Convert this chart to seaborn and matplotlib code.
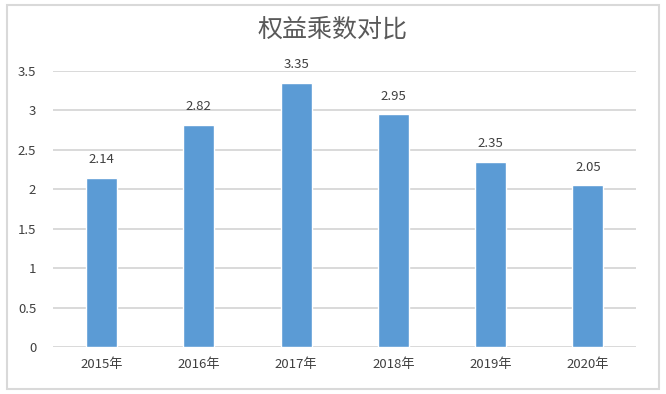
import matplotlib
matplotlib.use("Agg")
import matplotlib.pyplot as plt
import seaborn as sns
import pandas as pd
from matplotlib.patches import Rectangle

# Chart data
years = ["2015年", "2016年", "2017年", "2018年", "2019年", "2020年"]
values = [2.14, 2.82, 3.35, 2.95, 2.35, 2.05]
y_ticks = [0, 0.5, 1, 1.5, 2, 2.5, 3, 3.5]
y_tick_labels = ["0", "0.5", "1", "1.5", "2", "2.5", "3", "3.5"]

sns.set_style("white")
plt.rcParams['font.family'] = ['Noto Sans CJK SC', 'DejaVu Sans']

df = pd.DataFrame({"year": years, "value": values})

fig = plt.figure(figsize=(6.66, 3.94), dpi=100)
ax = fig.add_axes([0.0796, 0.1193, 0.876, 0.7005])

sns.barplot(data=df, x="year", y="value", color="#5B9BD5", saturation=1,
            width=0.32, ax=ax, zorder=3)

for i, v in enumerate(values):
    ax.text(i, v + 0.15, f"{v:.2f}", ha="center", va="bottom",
            fontsize=9.5, color="#404040")

ax.set_ylim(0, 3.5)
ax.set_yticks(y_ticks)
ax.set_yticklabels(y_tick_labels)
ax.grid(axis="y", color="#D9D9D9", linewidth=1.4, zorder=0)
ax.set_xlabel("")
ax.set_ylabel("")
for s in ax.spines.values():
    s.set_visible(False)
ax.tick_params(axis="both", length=0, labelsize=9.5, colors="#404040", pad=8)
ax.tick_params(axis="y", pad=12)

fig.text(0.5, 0.925, "权益乘数对比", ha="center", va="center",
         fontsize=18, color="#595959")

fig.patches.append(Rectangle((7 / 666, 5 / 394), 652 / 666, 384 / 394,
                             transform=fig.transFigure, fill=False,
                             edgecolor="#D9D9D9", linewidth=1.5))

fig.savefig("out.png", dpi=100)
